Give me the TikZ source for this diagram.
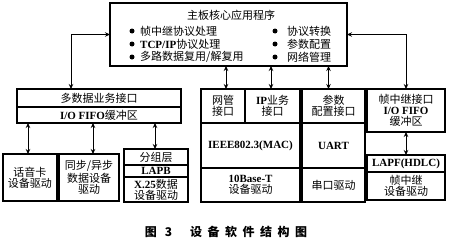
\documentclass[tikz,border=0pt]{standalone}
\usepackage{fontspec}
\setmainfont{Liberation Serif}
\newfontfamily\cjk{Noto Sans CJK SC}
\usetikzlibrary{arrows.meta}
\newcommand\zh[1]{{\cjk\mdseries #1}}
\newcommand\cellbox[6]{\node[cell, minimum width={(#4-#2)*1pt}, minimum height={(#5-#3)*1pt}] (#1) at ({(#2+#4)/2},{(#3+#5)/2}) {#6};}
\begin{document}
\begin{tikzpicture}[x=1pt,y=-1pt,
  cell/.style={draw,line width=1.1pt,inner sep=0pt,outer sep=0pt,align=center,font=\fontsize{11}{11.2}\selectfont\bfseries},
  txt/.style={inner sep=0pt,font=\fontsize{11}{12}\selectfont\bfseries},
  dot/.style={circle,fill,inner sep=0pt,minimum size=5pt},
  dbl/.style={line width=1pt,{Stealth[length=5pt,width=4.5pt]}-{Stealth[length=5pt,width=4.5pt]}}]
\useasboundingbox[fill=white] (0,0) rectangle (450,241);
% top box
\cellbox{top}{110}{3}{347}{66}{}
\node[txt] (title) at (231,15) {\zh{主板核心应用程序}};
\node[dot] (b1) at (132,31) {};
\node[dot] (b2) at (132,44) {};
\node[dot] (b3) at (132,57) {};
\node[dot] (b4) at (275,31) {};
\node[dot] (b5) at (275,44) {};
\node[dot] (b6) at (275,57) {};
\node[txt,anchor=west] (t1) at (140,31) {\zh{帧中继协议处理}};
\node[txt,anchor=west] (t2) at (140,44) {TCP/IP\zh{协议处理}};
\node[txt,anchor=west] (t3) at (140,57) {\zh{多路数据复用/解复用}};
\node[txt,anchor=west] (t4) at (287,31) {\zh{协议转换}};
\node[txt,anchor=west] (t5) at (287,44) {\zh{参数配置}};
\node[txt,anchor=west] (t6) at (287,57) {\zh{网络管理}};
% left group
\cellbox{multi}{17}{89}{181}{107}{\zh{多数据业务接口}}
\cellbox{io}{17}{107}{181}{123}{I/O FIFO\zh{缓冲区}}
\cellbox{voice}{3}{154}{57}{201}{\zh{话音卡}\\\zh{设备驱动}}
\cellbox{sync}{59}{154}{119}{201}{\zh{同步/异步}\\\zh{数据设备}\\\zh{驱动}}
\cellbox{grp}{124}{149}{188}{165}{\zh{分组层}}
\cellbox{lapb}{124}{165}{188}{177}{LAPB}
\cellbox{x25}{124}{177}{188}{202}{X.25\zh{数据}\\\zh{设备驱动}}
% network
\cellbox{gw}{201}{89}{245}{123}{\zh{网管}\\\zh{接口}}
\cellbox{ips}{245}{89}{300}{123}{IP\zh{业务}\\\zh{接口}}
\cellbox{mac}{201}{123}{300}{168}{IEEE802.3(MAC)}
\cellbox{tenb}{201}{168}{300}{202}{10Base-T\\\zh{设备驱动}}
% param
\cellbox{par}{302}{89}{365}{123}{\zh{参数}\\\zh{配置接口}}
\cellbox{uart}{302}{123}{365}{168}{UART}
\cellbox{com}{302}{168}{365}{202}{\zh{串口驱动}}
% frame relay
\cellbox{frame}{367}{89}{445}{132}{\zh{帧中继接口}\\I/O FIFO\\\zh{缓冲区}}
\cellbox{lapf}{367}{155}{445}{172}{LAPF(HDLC)}
\cellbox{fdrv}{367}{172}{445}{200}{\zh{帧中继}\\\zh{设备驱动}}
% arrows
\coordinate (ml) at ([xshift=-28pt]multi.north);
\draw[dbl] (top.west) -| (ml);
\draw[dbl] (top.east) -| (frame.north);
\coordinate (a1) at ([xshift=3pt]gw.north);
\coordinate (a2) at ([xshift=-1.5pt]ips.north);
\coordinate (a3) at ([xshift=-5pt]par.north);
\draw[dbl] (a1 |- top.south) -- (a1);
\draw[dbl] (a2 |- top.south) -- (a2);
\draw[dbl] (a3 |- top.south) -- (a3);
\coordinate (c1) at ([xshift=-2pt]voice.north);
\coordinate (c2) at ([xshift=4pt]sync.north);
\coordinate (c3) at ([xshift=-1pt]grp.north);
\draw[dbl] (c1 |- io.south) -- (c1);
\draw[dbl] (c2 |- io.south) -- (c2);
\draw[dbl] (c3 |- io.south) -- (c3);
\draw[dbl] (frame.south) -- (lapf.north);
% caption
\node[inner sep=0pt,font=\cjk\bfseries\fontsize{12}{14}\selectfont] (cap) at (226,232) {图\hspace{8pt}3\hspace{18pt}设\hspace{5.5pt}备\hspace{5.5pt}软\hspace{5.5pt}件\hspace{5.5pt}结\hspace{5.5pt}构\hspace{5.5pt}图};
\end{tikzpicture}
\end{document}
